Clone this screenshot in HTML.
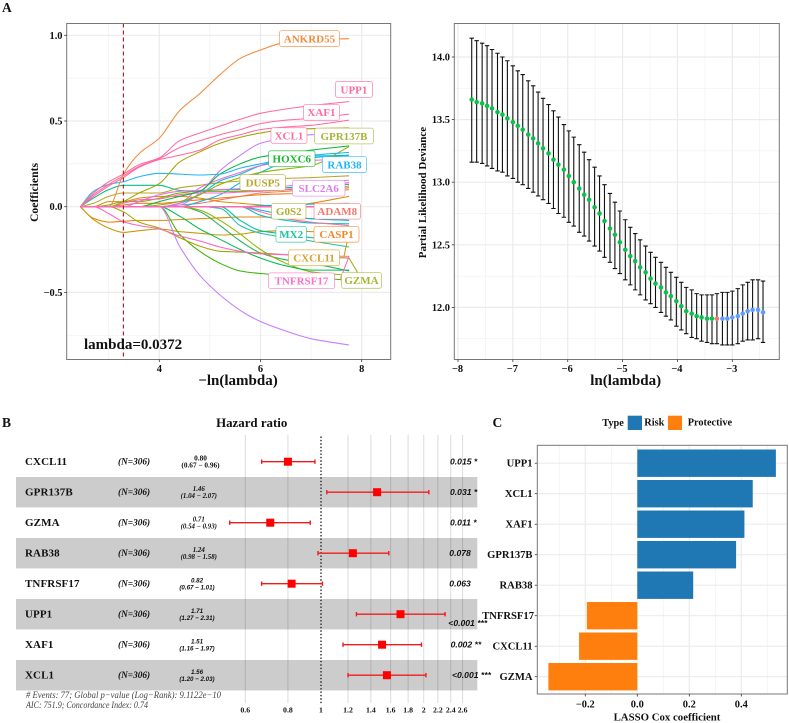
<!DOCTYPE html>
<html lang="en">
<head>
<meta charset="utf-8">
<title>LASSO Cox and forest plot figure</title>
<style>
html,body{margin:0;padding:0;background:#fff;width:789px;height:723px;overflow:hidden}
svg{display:block;filter:blur(.35px)}
text{font-family:"Liberation Serif",serif;font-weight:bold;fill:#111}
</style>
</head>
<body>
<svg id="figure" xmlns="http://www.w3.org/2000/svg" width="789" height="723" viewBox="0 0 789 723">
  <rect x="0" y="0" width="789" height="723" fill="#fff"/>
  <text x="2" y="12" font-size="13.5">A</text>
  <text x="2" y="427" font-size="13.5">B</text>
  <text x="492.5" y="427" font-size="13.5">C</text>

  <g id="coefPlot"></g>
  <text transform="translate(38,192.5) rotate(-90)" text-anchor="middle" font-size="11.7">Coefficients</text>
  <text x="238" y="385" text-anchor="middle" font-size="15">−ln(lambda)</text>
  <text x="84" y="349" font-size="15">lambda=0.0372</text>

  <g id="devPlot"></g>
  <text transform="translate(426,192.5) rotate(-90)" text-anchor="middle" font-size="11">Partial Likelihood Deviance</text>
  <text x="625.7" y="385" text-anchor="middle" font-size="15">ln(lambda)</text>

  <g id="forestPlot"></g>
  <text x="251.7" y="427" text-anchor="middle" font-size="12.9">Hazard ratio</text>
  <text x="26" y="698" font-size="9.2" textLength="195" lengthAdjust="spacingAndGlyphs" style="font-weight:normal;font-style:italic;fill:#444"># Events: 77; Global p−value (Log−Rank): 9.1122e−10</text>
  <text x="26" y="708" font-size="9.2" textLength="122" lengthAdjust="spacingAndGlyphs" style="font-weight:normal;font-style:italic;fill:#444">AIC: 751.9; Concordance Index: 0.74</text>

  <g id="barPlot"></g>
  <text x="667" y="720.7" text-anchor="middle" font-size="10.8">LASSO Cox coefficient</text>
  <g>
    <text x="602.3" y="426" font-size="10.3">Type</text>
    <rect x="627.7" y="415.7" width="14.3" height="14.3" fill="#1f77b4"/>
    <text x="644.3" y="425.3" font-size="10.3">Risk</text>
    <rect x="668" y="415.7" width="14" height="14.3" fill="#ff7f0e"/>
    <text x="687.7" y="425.3" font-size="10.3">Protective</text>
  </g>
</svg>
<script>
// ---------- Panel A (left): coefficient paths ----------
const coefLogLambda = [2.44,2.7,3.0,3.29,3.6,4.0,4.4,4.8,5.2,5.6,6.0,6.5,7.0,7.75];
const coefOptimal = 3.29;
const coefXTicks = [4,6,8];
const coefYTicks = [1,0.5,0,-0.5];
const coefYTickLabels = ["1.0","0.5","0.0","−0.5"];

const pathAnkrd55 = [0,0,0,.19,.31,.40,.56,.66,.77,.865,.914,.96,.975,.98];
const pathUpp1 = [0,.08,.145,.19,.245,.285,.385,.43,.47,.51,.545,.57,.59,.613];
const pathXaf1 = [0,.07,.13,.18,.235,.28,.345,.385,.42,.45,.485,.505,.515,.54];
const pathXcl1 = [0,.06,.12,.17,.23,.275,.30,.33,.39,.42,.45,.465,.475,.505];
const pathGpr137b = [0,0,0,.03,.08,.135,.26,.32,.37,.405,.43,.45,.455,.46];
const pathPurpleUp = [0,0,0,0,0,0,.01,.08,.21,.30,.37,.40,.42,.43];
const pathHoxc6 = [0,0,0,0,0,.03,.06,.09,.19,.25,.29,.31,.33,.355];
const pathOlive = [0,0,0,0,0,.01,.03,.07,.13,.17,.2,.22,.24,.35];
const pathRab38 = [0,.09,.13,.146,.175,.195,.19,.185,.19,.225,.25,.28,.3,.317];
const pathTeal = [0,.05,.1,.125,.125,.125,.095,.09,.1,.1,.1,.11,.12,.13];
const pathDusp5 = [0,.02,.06,.08,.08,.08,.11,.125,.14,.15,.16,.165,.17,.18];
const pathCyanA = [0,0,0,0,0,0,.02,.07,.15,.19,.24,.28,.295,.3];
const pathCyanB = [0,0,0,0,0,0,0,.03,.07,.14,.2,.26,.285,.3];
const pathSlc2a6 = [0,0,0,0,.03,.07,.09,.095,.1,.105,.11,.12,.135,.155];
const pathMagentaA = [0,0,0,.02,.04,.045,.07,.08,.08,.085,.09,.10,.12,.14];
const pathMagentaB = [0,0,0,0,0,0,.02,.11,.16,.2,.24,.26,.27,.28];
const pathAdam8 = [0,0,0,0,0,0,.01,.02,.04,.06,.08,.09,.1,.12];
const pathSalmon = [0,0,0,.01,.02,.02,.03,.04,.05,.06,.07,.075,.08,.1];
const pathGold = [0,0,.03,.03,.05,.06,.06,.05,.03,.02,.01,0,.02,.06];
const pathLime = [0,0,.01,.03,.03,.05,.08,.09,.09,.09,.1,.1,.1,.11];
const pathOrangeNeg = [0,-.068,-.09,-.085,-.08,-.08,-.075,-.07,-.065,-.06,-.06,-.065,-.07,-.08];
const pathGoldNeg = [0,-.075,-.125,-.15,-.14,-.13,-.145,-.155,-.165,-.16,-.145,-.14,-.145,-.15];
const pathTnfrsf17 = [0,0,-.04,-.088,-.11,-.13,-.17,-.2,-.235,-.26,-.275,-.28,-.285,-.29];
const pathGzma = [0,0,0,-.03,-.09,-.125,-.18,-.23,-.26,-.265,-.27,-.28,-.29,-.30];
const pathGreenA = [0,0,0,0,0,0,-.16,-.26,-.33,-.375,-.39,-.4,-.41,-.43];
const pathGreenB = [0,0,0,0,0,0,-.055,-.13,-.19,-.25,-.3,-.345,-.37,-.37];
const pathOliveNeg = [0,0,0,0,0,0,0,-.02,-.08,-.16,-.25,-.33,-.38,-.40];
const pathGreenC = [0,0,0,0,0,0,0,-.03,-.11,-.2,-.27,-.31,-.33,-.375];
const pathPurpleDown = [0,0,0,0,0,0,-.23,-.40,-.515,-.605,-.67,-.725,-.77,-.807];
const pathTealNegA = [0,0,0,0,0,0,0,0,-.01,-.11,-.155,-.18,-.2,-.235];
const pathTealNegB = [0,0,0,0,0,0,0,0,0,-.08,-.14,-.16,-.18,-.2];
const pathCyanNegA = [0,0,0,0,0,0,0,0,0,0,-.05,-.08,-.095,-.1];
const pathCyanNegB = [0,0,0,0,0,0,0,0,0,0,-.02,-.05,-.07,-.08];
const pathPinkNeg = [0,0,0,0,0,0,0,0,0,0,-.03,-.07,-.09,-.11];
const pathCyanPos = [0,0,0,0,0,0,0,0,0,0,.005,.01,.015,.02];
const pathZero = [0,0,0,0,0,0,0,0,0,0,0,0,0,0];

const coefPaths = [pathAdam8,pathSalmon,pathGold,pathLime,pathOrangeNeg,pathGoldNeg,pathTeal,pathDusp5,pathCyanA,pathCyanB,pathSlc2a6,pathMagentaA,pathMagentaB,pathCyanPos,pathCyanNegA,pathCyanNegB,pathPinkNeg,pathTealNegA,pathTealNegB,pathGreenC,pathOliveNeg,pathGreenB,pathGreenA,pathGzma,pathTnfrsf17,pathPurpleDown,pathPurpleUp,pathHoxc6,pathOlive,pathRab38,pathGpr137b,pathXcl1,pathXaf1,pathUpp1,pathAnkrd55,pathZero];
const coefColors = ["#f8766d","#ef7f1a","#de8c00","#7cae00","#e58700","#c99800","#00c08b","#b8a52a","#00bfc4","#00b8e7","#e76bf3","#ff61c3","#f564e3","#00b0f6","#00bcd8","#00b4ef","#ff6a98","#1fc3a0","#00c19a","#22af55","#8db600","#00bb4e","#39b600","#a3a500","#ff61c3","#c77cff","#c77cff","#00ba38","#8fb000","#22b5f5","#a3a500","#ff6a9f","#ff6a9f","#ff6a9f","#f58a3c","#ff69b4"];

const labelGenes = ["ANKRD55","UPP1","XAF1","XCL1","GPR137B","HOXC6","RAB38","DUSP5","SLC2A6","G0S2","ADAM8","MX2","CASP1","CXCL11","TNFRSF17","GZMA"];
const labelXs = [6.968,7.847,7.205,6.563,7.65,6.618,7.66,6.044,7.15,6.558,7.517,6.607,7.502,7.057,6.81,7.996];
const labelYs = [.981,.684,.55,.415,.4125,.28,.246,.141,.108,-.0265,-.0265,-.161,-.161,-.298,-.432,-.43];
const labelWidths = [60,37,36,36,59,46.5,44,45.5,52.5,34.5,46.5,30.5,45,51,66,40];
const labelColors = ["#f58a3c","#ff6a9f","#ff6a9f","#ff6a9f","#a8b43a","#18b82e","#22b5f5","#b8a52a","#dc7cf0","#b0ae2a","#f8766d","#1fc3a0","#f08a24","#d6a32a","#ff6ec7","#a5b836"];

// ---------- Panel A (right): cross-validation deviance ----------
const devLogLambda = [-7.75,-7.66,-7.56,-7.47,-7.38,-7.28,-7.19,-7.10,-7.00,-6.91,-6.82,-6.72,-6.63,-6.54,-6.45,-6.35,-6.26,-6.17,-6.07,-5.98,-5.89,-5.79,-5.70,-5.61,-5.51,-5.42,-5.33,-5.23,-5.14,-5.05,-4.95,-4.86,-4.77,-4.68,-4.58,-4.49,-4.40,-4.30,-4.21,-4.12,-4.02,-3.93,-3.84,-3.74,-3.65,-3.56,-3.46,-3.37,-3.28,-3.18,-3.09,-3.00,-2.90,-2.81,-2.72,-2.63,-2.53,-2.44];
const devMean = [13.66,13.64,13.63,13.61,13.59,13.56,13.54,13.51,13.48,13.45,13.42,13.38,13.35,13.31,13.27,13.23,13.18,13.14,13.10,13.05,13.00,12.95,12.90,12.86,12.80,12.75,12.69,12.63,12.58,12.52,12.46,12.41,12.37,12.32,12.28,12.23,12.19,12.16,12.12,12.09,12.05,12.01,11.97,11.95,11.93,11.92,11.91,11.91,11.91,11.91,11.91,11.92,11.93,11.95,11.97,11.98,11.98,11.96];
const devUpper = [14.15,14.13,14.11,14.09,14.06,14.03,14.00,13.97,13.93,13.89,13.86,13.81,13.77,13.72,13.67,13.62,13.57,13.52,13.46,13.41,13.36,13.30,13.24,13.18,13.12,13.05,12.98,12.91,12.84,12.77,12.70,12.64,12.59,12.54,12.49,12.44,12.40,12.36,12.32,12.28,12.24,12.20,12.16,12.14,12.11,12.10,12.10,12.10,12.11,12.12,12.12,12.13,12.15,12.18,12.20,12.22,12.22,12.21];
const devLower = [13.16,13.16,13.15,13.13,13.11,13.09,13.08,13.05,13.03,13.00,12.98,12.95,12.92,12.89,12.86,12.83,12.79,12.75,12.72,12.68,12.65,12.60,12.57,12.53,12.49,12.45,12.40,12.36,12.31,12.27,12.22,12.18,12.14,12.10,12.06,12.03,12.00,11.96,11.93,11.90,11.85,11.82,11.79,11.76,11.75,11.73,11.72,11.71,11.71,11.70,11.70,11.70,11.71,11.73,11.74,11.74,11.75,11.72];
const devBestIndex = 48;
const devXTicks = [-8,-7,-6,-5,-4,-3];
const devXTickLabels = ["−8","−7","−6","−5","−4","−3"];
const devYTicks = [14,13.5,13,12.5,12];
const devYTickLabels = ["14.0","13.5","13.0","12.5","12.0"];

// ---------- Panel B: forest plot ----------
const forestGenes = ["CXCL11","GPR137B","GZMA","RAB38","TNFRSF17","UPP1","XAF1","XCL1"];
const forestHR = [0.80,1.46,0.71,1.24,0.82,1.71,1.51,1.56];
const forestLow = [0.67,1.04,0.54,0.98,0.67,1.27,1.16,1.20];
const forestHigh = [0.96,2.07,0.93,1.58,1.01,2.31,1.97,2.03];
const forestHRText = ["0.80","1.46","0.71","1.24","0.82","1.71","1.51","1.56"];
const forestCIText = ["(0.67 − 0.96)","(1.04 − 2.07)","(0.54 − 0.93)","(0.98 − 1.58)","(0.67 − 1.01)","(1.27 − 2.31)","(1.16 − 1.97)","(1.20 − 2.03)"];
const forestP = ["0.015 *","0.031 *","0.011 *","0.078","0.063","<0.001 ***","0.002 **","<0.001 ***"];
const forestTicks = [0.6,0.8,1,1.2,1.4,1.6,1.8,2,2.2,2.4,2.6];
const forestTickLabels = ["0.6","0.8","1","1.2","1.4","1.6","1.8","2","2.2","2.4","2.6"];

// ---------- Panel C: bars ----------
const barGenes = ["UPP1","XCL1","XAF1","GPR137B","RAB38","TNFRSF17","CXCL11","GZMA"];
const barValues = [0.533,0.444,0.412,0.38,0.215,-0.194,-0.224,-0.342];
const barXTicks = [-0.2,0,0.2,0.4];
const barXTickLabels = ["−0.2","0.0","0.2","0.4"];
const barMinorTicks = [-0.3,-0.1,0.1,0.3,0.5];

// ---------- helpers ----------
const NS = "http://www.w3.org/2000/svg";
function mk(tag, attrs, parent) {
  const e = document.createElementNS(NS, tag);
  for (const k in attrs) e.setAttribute(k, attrs[k]);
  parent.appendChild(e);
  return e;
}
function tx(str, attrs, parent) {
  const e = mk("text", attrs, parent);
  e.textContent = str;
  return e;
}
function seg(x1, y1, x2, y2, stroke, w, parent) {
  return mk("line", {x1:x1, y1:y1, x2:x2, y2:y2, stroke:stroke, "stroke-width":w}, parent);
}
// Monotone cubic path through pixel points so flat runs stay flat.
function smoothPath(px, py) {
  const n = px.length, d = [], m = [];
  for (let i = 0; i < n-1; i++) d.push((py[i+1]-py[i])/(px[i+1]-px[i]));
  m.push(d[0]);
  for (let i = 1; i < n-1; i++) m.push(d[i-1]*d[i] <= 0 ? 0 : 2*d[i-1]*d[i]/(d[i-1]+d[i]));
  m.push(d[n-2]);
  let s = "M"+px[0].toFixed(1)+" "+py[0].toFixed(1);
  for (let i = 0; i < n-1; i++) {
    const h = (px[i+1]-px[i])/3;
    s += "C"+(px[i]+h).toFixed(1)+" "+(py[i]+m[i]*h).toFixed(1)+" "+(px[i+1]-h).toFixed(1)+" "+(py[i+1]-m[i+1]*h).toFixed(1)+" "+px[i+1].toFixed(1)+" "+py[i+1].toFixed(1);
  }
  return s;
}
function grid(parent, L, R, T, B, xMajor, xMinor, yMajor, yMinor) {
  xMinor.forEach(v => { const l = seg(v,T,v,B,"#f1f1f1",.7,parent);
    
     });
  yMinor.forEach(v => { const l = seg(L,v,R,v,"#f1f1f1",.7,parent);
    
     });
  xMajor.forEach(v => { const l = seg(v,T,v,B,"#ebebeb",1.2,parent);
    
     });
  yMajor.forEach(v => { const l = seg(L,v,R,v,"#ebebeb",1.2,parent);
    
     });
}
function frame(parent, L, R, T, B) {
  const r = mk("rect",{x:L,y:T,width:R-L,height:B-T,fill:"none",stroke:"#777","stroke-width":1},parent);
  
  
}

// ---------- draw coefficient chart ----------
(function(){
  const g = document.getElementById("coefPlot");
  const L=66.7,R=390.7,T=23.5,B=359.5;
  const xS = v => 159.3 + (v-4)*50.6;
  const yS = v => 206.7 - v*171.4;
  grid(g,L,R,T,B,coefXTicks.map(xS),[3,5,7].map(xS),coefYTicks.map(yS),[.75,.25,-.25,-.75].map(yS));
  const px = coefLogLambda.map(xS);
  coefPaths.forEach((vals,i) => {
    const line = mk("path",{d:smoothPath(px,vals.map(yS)),fill:"none",stroke:coefColors[i],"stroke-width":vals===pathZero?1.5:1.05,"stroke-linejoin":"round"},g);
    
    
  });
  const last = coefLogLambda.length-1;
  [[pathTnfrsf17,7.58,-.42,"#ff61c3"],[pathGzma,7.95,-.40,"#a3a500"],[pathGoldNeg,7.65,-.29,"#c99800"]].forEach(c => {
    const l = seg(xS(coefLogLambda[last]),yS(c[0][last]),xS(c[1]),yS(c[2]),c[3],1,g);
    
    
  });
  const cut = mk("line",{x1:xS(coefOptimal),y1:T,x2:xS(coefOptimal),y2:B,stroke:"#b5121b","stroke-width":1.1,"stroke-dasharray":"4 3"},g);
  
  
  labelGenes.forEach((name,i) => {
    const cx = xS(labelXs[i]), cy = yS(labelYs[i]), w = labelWidths[i], h = 15.8;
    const box = mk("g",{},g);
    
    
    mk("rect",{x:cx-w/2,y:cy-h/2,width:w,height:h,rx:2.2,fill:"#fff",stroke:labelColors[i],"stroke-width":.8,"stroke-opacity":.75},box);
    tx(name,{x:cx,y:cy+3.8,"text-anchor":"middle","font-size":11,style:"fill:"+labelColors[i]},box);
  });
  frame(g,L,R,T,B);
  coefYTicks.forEach((v,i) => {
    const t = seg(L-2.5,yS(v),L,yS(v),"#333",.8,g);
    
    
    const s = tx(coefYTickLabels[i],{x:62.5,y:yS(v)+3.5,"text-anchor":"end","font-size":10.4},g);
    
    
  });
  coefXTicks.forEach(v => {
    const t = seg(xS(v),B,xS(v),B+2.5,"#333",.8,g);
    
    
    const s = tx(String(v),{x:xS(v),y:372,"text-anchor":"middle","font-size":10.4},g);
    
    
  });
})();

// ---------- draw deviance chart ----------
(function(){
  const g = document.getElementById("devPlot");
  const L=454.3,R=779.3,T=23.5,B=359.5;
  const xS = v => 458 + (v+8)*54.86;
  const yS = v => 57 + (14-v)*125.2;
  grid(g,L,R,T,B,devXTicks.map(xS),[-7.5,-6.5,-5.5,-4.5,-3.5,-2.5].map(xS),devYTicks.map(yS),[13.75,13.25,12.75,12.25,11.75].map(yS));
  devLogLambda.forEach((x,i) => {
    const px = xS(x), hi = yS(devUpper[i]), lo = yS(devLower[i]);
    const bar = mk("path",{d:`M${px} ${hi}V${lo}M${px-2.2} ${hi}H${px+2.2}M${px-2.2} ${lo}H${px+2.2}`,fill:"none",stroke:"#111","stroke-width":1.1},g);
    
    
  });
  devLogLambda.forEach((x,i) => {
    const fill = i < devBestIndex ? "#0bc14a" : (i === devBestIndex ? "#f8766d" : "#619cff");
    const dot = mk("circle",{cx:xS(x),cy:yS(devMean[i]),r:2.3,fill:fill},g);
    
    
  });
  frame(g,L,R,T,B);
  devYTicks.forEach((v,i) => {
    const t = seg(L-2.5,yS(v),L,yS(v),"#333",.8,g);
    
    
    const s = tx(devYTickLabels[i],{x:450,y:yS(v)+3.5,"text-anchor":"end","font-size":10.4},g);
    
    
  });
  devXTicks.forEach((v,i) => {
    const t = seg(xS(v),B,xS(v),B+2.5,"#333",.8,g);
    
    
    const s = tx(devXTickLabels[i],{x:xS(v)-.5,y:372,"text-anchor":"middle","font-size":10.4},g);
    
    
  });
})();

// ---------- draw forest plot ----------
(function(){
  const g = document.getElementById("forestPlot");
  const xS = v => 321 + Math.log(v)*148.2;
  const yS = i => 461.7 + 30.5*i;
  forestGenes.forEach((n,i) => {
    if (i%2===1) {
      const band = mk("rect",{x:16,y:yS(i)-15.2,width:461.3,height:30.4,fill:"#cccccc"},g);
      
      
    }
  });
  forestTicks.forEach((v,i) => {
    if (v!==1) {
      const gl = seg(xS(v),435,xS(v),703,"rgba(0,0,0,.14)",1,g);
      
      
    }
    const s = tx(forestTickLabels[i],{x:xS(v),y:712.7,"text-anchor":"middle","font-size":7.8},g);
    
    
  });
  const ref = mk("line",{x1:xS(1),y1:436.5,x2:xS(1),y2:705,stroke:"#222","stroke-width":1.4,"stroke-dasharray":"1.4 2"},g);
  
  
  forestGenes.forEach((n,i) => {
    const yc = yS(i);
    const name = tx(n,{x:25,y:yc+3.4,"font-size":11,"letter-spacing":".1"},g);
    
    
    const cnt = tx("(N=306)",{x:118,y:yc+3,"font-size":9.3,style:"font-style:italic"},g);
    
    
    const sans = i>=4;
    const size = i===0 ? 7.3 : (sans ? 6.2 : 6.9);
    const cx = i===0 ? 200.5 : (sans ? 197 : 198.8);
    const sty = (sans ? 'font-family:"Liberation Sans",sans-serif;' : '') + (i===0 ? '' : 'font-style:italic;');
    const hrT = tx(forestHRText[i],{x:cx,y:yc-1,"text-anchor":"middle","font-size":size,style:sty},g);
    
    
    const ciT = tx(forestCIText[i],{x:cx,y:yc+6,"text-anchor":"middle","font-size":size,style:sty},g);
    
    
    const lo = xS(forestLow[i]), hi = xS(forestHigh[i]), m = xS(forestHR[i]);
    const ci = mk("path",{d:`M${lo} ${yc}H${hi}M${lo} ${yc-2.2}V${yc+2.2}M${hi} ${yc-2.2}V${yc+2.2}`,fill:"none",stroke:"#f01c1c","stroke-width":1.4},g);
    
    
    const sq = mk("rect",{x:m-4,y:yc-4,width:8,height:8,fill:"#ff0000"},g);
    
    
    const pX = i===5 ? 448.3 : (i===6 ? 450.6 : (i===7 ? 452 : (i===3||i===4 ? 449.3 : 450)));
    const pY = i===5 ? yc+9 : yc;
    const pv = tx(forestP[i],{x:pX,y:pY+3,"font-size":8.6,style:'font-family:"Liberation Sans",sans-serif;font-style:italic'},g);
    
    
  });
})();

// ---------- draw bar chart ----------
(function(){
  const g = document.getElementById("barPlot");
  const L=537.3,R=787.3,T=445.3,B=694;
  const xS = v => 637.3 + v*260;
  const yS = i => 463.2 + 30.5*i;
  grid(g,L,R,T,B,barXTicks.map(xS),barMinorTicks.map(xS),barGenes.map((n,i)=>yS(i)),[]);
  barGenes.forEach((n,i) => {
    const v = barValues[i], x0 = xS(Math.min(0,v)), x1 = xS(Math.max(0,v));
    const bar = mk("rect",{x:x0,y:yS(i)-13.7,width:x1-x0,height:27.4,fill:v>=0?"#1f77b4":"#ff7f0e"},g);
    
    
    const t = seg(L-2.5,yS(i),L,yS(i),"#333",.8,g);
    
    
    const s = tx(n,{x:n==="TNFRSF17"?534:532.5,y:yS(i)+3.5,"text-anchor":"end","font-size":10.6},g);
    
    
  });
  frame(g,L,R,T,B);
  barXTicks.forEach((v,i) => {
    const t = seg(xS(v),B,xS(v),B+2.5,"#333",.8,g);
    
    
    const s = tx(barXTickLabels[i],{x:xS(v),y:707.3,"text-anchor":"middle","font-size":10.4},g);
    
    
  });
})();
</script>
</body>
</html>
